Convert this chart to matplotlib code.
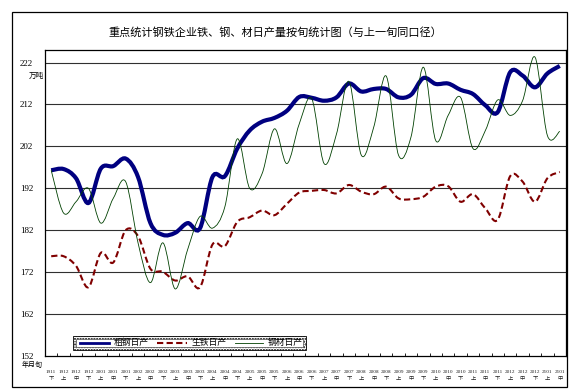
import matplotlib
matplotlib.use("Agg")
import matplotlib.pyplot as plt
import numpy as np
from matplotlib.path import Path
from matplotlib.patches import PathPatch, Rectangle
from matplotlib.lines import Line2D

plt.rcParams['font.family'] = ['Noto Sans CJK SC', 'DejaVu Sans']
num_font = ['Liberation Serif', 'Noto Sans CJK SC']

# 年月 + 旬
months = ['1911'] + ['1912'] * 3 + [f'20{m:02d}' for m in range(1, 13) for _ in range(3)] + ['2101'] * 2
dekads = ['下'] + ['上', '中', '下'] * 13 + ['上', '中']

crude_steel = [196.3, 196.6, 194.4, 188.5, 196.7, 197.3, 199.1, 194.7, 183.7, 180.9,
               181.4, 183.7, 182.5, 194.7, 194.9, 201.5, 205.8, 207.9, 208.8, 210.5,
               213.8, 213.6, 212.9, 213.7, 217.0, 215.1, 215.7, 215.7, 213.7, 214.3,
               218.3, 216.9, 217.0, 215.5, 214.5, 211.8, 210.2, 219.7, 218.9, 216.1,
               219.4, 221.2]
pig_iron = [175.8, 175.8, 173.5, 168.4, 176.6, 174.3, 182.0, 180.6, 172.8, 172.1,
            170.0, 171.0, 168.4, 178.6, 178.2, 184.0, 185.1, 186.7, 185.6, 188.3,
            191.0, 191.4, 191.6, 190.8, 192.8, 191.2, 190.6, 192.4, 189.6, 189.4,
            190.0, 192.4, 192.5, 188.8, 190.6, 187.2, 184.5, 194.9, 193.6, 188.8,
            194.4, 195.9]
rolled_steel = [196.3, 186.1, 188.8, 192.0, 183.7, 189.6, 193.6, 179.0, 169.5, 179.0,
                168.0, 177.4, 185.3, 182.5, 187.6, 203.8, 192.0, 195.5, 206.2, 197.9,
                207.4, 213.4, 197.9, 205.0, 217.5, 199.9, 206.6, 218.8, 199.9, 204.2,
                220.9, 203.4, 209.4, 213.7, 201.5, 205.8, 213.1, 209.4, 212.9, 223.3,
                204.6, 205.6]
yticks = [152, 162, 172, 182, 192, 202, 212, 222]


def smooth_path(xs, ys):
    # excel style smoothed line: bezier segments through every point
    pts = np.column_stack([xs, ys]).astype(float)
    ext = np.vstack([pts[0], pts, pts[-1]])
    verts = [pts[0]]
    codes = [Path.MOVETO]
    for i in range(len(pts) - 1):
        p0, p1, p2, p3 = ext[i], ext[i + 1], ext[i + 2], ext[i + 3]
        verts += [p1 + (p2 - p0) / 6, p2 - (p3 - p1) / 6, p2]
        codes += [Path.CURVE4] * 3
    return Path(verts, codes)


fig = plt.figure(figsize=(5.78, 3.92), dpi=100)
ax = fig.add_axes([45 / 578, 36 / 392, 521 / 578, 306 / 392])

x = np.arange(len(months))
series = [
    (crude_steel, '#000080', '-', 3.0),
    (pig_iron, '#800000', (0, (3, 1.6)), 1.5),
    (rolled_steel, '#004000', '-', 0.6),
]
for vals, col, ls, lw in series:
    ax.add_patch(PathPatch(smooth_path(x, vals), facecolor='none', edgecolor=col,
                           linestyle=ls, linewidth=lw, capstyle='butt', zorder=3))

ax.set_xlim(-0.5, len(months) - 0.5)
ax.set_ylim(152, 225)
ax.set_yticks(yticks)
ax.set_yticklabels([str(v) for v in yticks], fontsize=6.5, family=num_font)
ax.tick_params(axis='y', length=0, pad=8.5)
for v in yticks[1:]:
    ax.axhline(v, color='#303030', linewidth=0.8, zorder=1)

ax.set_xticks(x)
ax.set_xticklabels([f'{m}\n{d}' for m, d in zip(months, dekads)], fontsize=3.8,
                   linespacing=2.0, color='#222222', family=num_font)
ax.tick_params(axis='x', length=0, pad=10)
ax.set_xticks(np.arange(len(months) + 1) - 0.5, minor=True)
ax.tick_params(axis='x', which='minor', direction='in', length=2, width=0.6)
for s in ax.spines.values():
    s.set_linewidth(0.9)

fig.text(36 / 578, 1 - 76 / 392, '万吨', fontsize=5.5, ha='center', va='center')
fig.text(32 / 578, 1 - 365 / 392, '年月旬', fontsize=5, ha='center', va='center')
fig.text(275 / 578, 1 - 32 / 392, '重点统计钢铁企业铁、钢、材日产量按旬统计图（与上一旬同口径）',
         fontsize=8, ha='center', va='center')

# outer chart border
fig.patches.append(Rectangle((12 / 578, 5 / 392), 555 / 578, 375 / 392, transform=fig.transFigure,
                             fill=False, edgecolor='black', linewidth=0.9))

# legend box with dotted band
lx0, ly0, lw_, lh = 73 / 578, 1 - 350 / 392, 233 / 578, 14 / 392
fig.patches.append(Rectangle((lx0, ly0), lw_, lh, transform=fig.transFigure, facecolor='white',
                             edgecolor='black', linewidth=0.6, hatch='......', zorder=4))
fig.patches.append(Rectangle((lx0 + 3 / 578, ly0 + 3 / 392), lw_ - 6 / 578, lh - 6 / 392,
                             transform=fig.transFigure, facecolor='white', edgecolor='#555555',
                             linewidth=0.5, zorder=5))
labels = ['粗钢日产', '生铁日产', '钢材日产']
line_x = [(80, 109), (157, 187), (235, 263)]
text_x = [114, 191, 268]
ym = 1 - 343 / 392
for (vals, col, ls, lw), lab, (a, b), tx in zip(series, labels, line_x, text_x):
    fig.lines.append(Line2D([a / 578, b / 578], [ym, ym], transform=fig.transFigure, color=col,
                            linestyle=ls, linewidth=min(lw, 2.0), zorder=6))
    fig.text(tx / 578, ym, lab, fontsize=6.3, ha='left', va='center', zorder=6)

fig.savefig('out.png', dpi=100)
